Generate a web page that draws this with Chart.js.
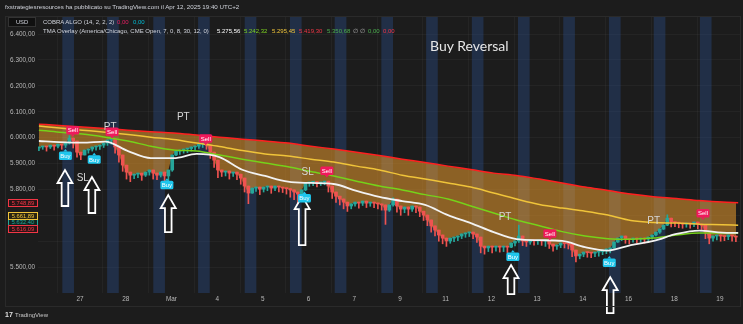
<!DOCTYPE html>
<html>
<head>
<meta charset="utf-8">
<script src="https://cdn.jsdelivr.net/npm/chart.js@4.4.1/dist/chart.umd.min.js"></script>
<style>
body { margin: 0; background: #1c1c1c; width: 743px; height: 324px; overflow: hidden; font-family: "Liberation Sans", Arial, sans-serif; }
#wrap { position: relative; width: 743px; height: 324px; }
#chart { position: absolute; left: 0; top: 0; }
.t { position: absolute; white-space: nowrap; font-size: 6px; line-height: 7px; color: #d1d4dc; }
.frame { position: absolute; left: 5px; top: 16px; width: 734px; height: 289px; border: 1px solid #2a2a2a; pointer-events: none; }
.badge { position: absolute; left: 8px; width: 30px; height: 8px; box-sizing: border-box; border: 1px solid; font-size: 5.8px; line-height: 6px; text-align: center; }
.usd { position: absolute; left: 8px; top: 17px; width: 28px; height: 10px; box-sizing: border-box; background: #101010; border: 1px solid #333; color: #d1d4dc; font-size: 5.8px; line-height: 8px; text-align: center; }
.title { position: absolute; left: 430px; top: 37px; font-family: Lato, "Open Sans", sans-serif; font-size: 14px; color: #e6e6e6; }
</style>
</head>
<body>
<div id="wrap">
  <canvas id="chart" width="743" height="324"></canvas>
  <div class="frame"></div>
  <div class="t" style="left:5px;top:3px;font-size:6.2px">fxstrategiesresources ha pubblicato su TradingView.com il Apr 12, 2025 19:40 UTC+2</div>
  <div class="usd">USD</div>
  <div class="t" style="left:43px;top:18.5px">COBRA ALGO (14, 2, 2, 2)</div>
  <div class="t" style="left:117px;top:18.5px;color:#e91e63">0,00</div>
  <div class="t" style="left:133px;top:18.5px;color:#00bcd4">0,00</div>
  <div class="t" style="left:43px;top:27.5px">TMA Overlay (America/Chicago, CME Open, 7, 0, 8, 30, 12, 0)</div>
  <div class="t" style="left:217px;top:27.5px;color:#ffffff">5.275,56</div>
  <div class="t" style="left:244px;top:27.5px;color:#7ed321">5.242,32</div>
  <div class="t" style="left:272px;top:27.5px;color:#f0c43a">5.295,45</div>
  <div class="t" style="left:299px;top:27.5px;color:#f23645">5.419,30</div>
  <div class="t" style="left:327px;top:27.5px;color:#4caf50">5.350,68</div>
  <div class="t" style="left:353px;top:27.5px;color:#b0b0b0">&#8709;</div>
  <div class="t" style="left:360px;top:27.5px;color:#b0b0b0">&#8709;</div>
  <div class="t" style="left:368px;top:27.5px;color:#4caf50">0,00</div>
  <div class="t" style="left:383px;top:27.5px;color:#f23645">0,00</div>
  <div class="title">Buy Reversal</div>
  <div class="badge" style="top:218px;border-color:#26a69a;color:#26a69a;background:#10241f">5.632,40</div>
  <div class="badge" style="top:199px;border-color:#f23645;color:#f23645;background:#2a1416">5.748,89</div>
  <div class="badge" style="top:212px;border-color:#f0c43a;color:#f0c43a;background:#2a2512">5.661,89</div>
  <div class="badge" style="top:225px;border-color:#f23645;color:#f23645;background:#2a1416">5.616,09</div>
  <div class="t" style="left:5px;top:311px;font-size:7px;font-weight:bold;color:#e0e0e0">17</div>
  <div class="t" style="left:15px;top:311.5px;color:#c8c8c8">TradingView</div>
</div>
<script>
const dayLabels = ['27', '28', 'Mar', '4', '5', '6', '7', '9', '11', '12', '13', '14', '16', '18', '19'];
const yTicks = [5500, 5600, 5700, 5800, 5900, 6000, 6100, 6200, 6300, 6400];

// candles: 12 bars per session, first bar at day -0.9
const candleStart = -0.9;
const candlesPerDay = 12;
const firstOpen = 5960;
const closes = [
  5964, 5967, 5964, 5971, 5967, 5975, 5971, 5979, 5998, 5987,
  5944, 5933, 5952, 5956, 5964, 5967, 5971, 5979, 5991, 5994,
  5964, 5933, 5894, 5867, 5855, 5859, 5863, 5855, 5867, 5875,
  5863, 5855, 5867, 5852, 5875, 5933, 5948, 5952, 5956, 5958,
  5964, 5967, 5975, 5979, 5971, 5944, 5913, 5875, 5867, 5871,
  5863, 5867, 5859, 5844, 5813, 5786, 5805, 5809, 5801, 5809,
  5813, 5805, 5813, 5809, 5805, 5803, 5798, 5790, 5782, 5798,
  5825, 5828, 5830, 5825, 5828, 5832, 5813, 5790, 5774, 5763,
  5751, 5736, 5744, 5751, 5747, 5755, 5747, 5751, 5747, 5744,
  5740, 5720, 5740, 5763, 5736, 5724, 5732, 5724, 5736, 5732,
  5716, 5701, 5682, 5659, 5643, 5624, 5612, 5601, 5612, 5616,
  5620, 5628, 5632, 5635, 5628, 5616, 5581, 5574, 5581, 5577,
  5581, 5577, 5581, 5577, 5593, 5601, 5620, 5601, 5597, 5604,
  5601, 5604, 5601, 5604, 5589, 5581, 5585, 5593, 5591, 5589,
  5566, 5543, 5550, 5558, 5556, 5554, 5558, 5560, 5566, 5570,
  5574, 5597, 5612, 5620, 5608, 5606, 5612, 5608, 5612, 5608,
  5616, 5624, 5635, 5647, 5662, 5689, 5674, 5672, 5670, 5666,
  5670, 5666, 5674, 5666, 5662, 5635, 5612, 5620, 5624, 5620,
  5618, 5624, 5620, 5616.09
];
const lows = [
  5950, 5955, 5948, 5958, 5952, 5960, 5955, 5962, 5975, 5960,
  5925, 5915, 5935, 5940, 5948, 5952, 5955, 5962, 5970, 5975,
  5940, 5905, 5870, 5840, 5830, 5842, 5845, 5835, 5850, 5855,
  5840, 5838, 5848, 5830, 5830, 5870, 5930, 5935, 5940, 5942,
  5948, 5952, 5958, 5962, 5955, 5920, 5885, 5845, 5850, 5852,
  5840, 5850, 5838, 5820, 5790, 5745, 5785, 5792, 5780, 5790,
  5795, 5785, 5795, 5790, 5788, 5782, 5770, 5760, 5745, 5770,
  5795, 5812, 5815, 5810, 5815, 5818, 5790, 5765, 5750, 5740,
  5725, 5715, 5725, 5735, 5728, 5738, 5730, 5735, 5730, 5725,
  5720, 5665, 5715, 5735, 5712, 5700, 5710, 5700, 5715, 5710,
  5695, 5680, 5660, 5635, 5620, 5600, 5590, 5580, 5592, 5598,
  5602, 5610, 5615, 5618, 5610, 5595, 5555, 5550, 5560, 5555,
  5562, 5558, 5560, 5556, 5575, 5582, 5595, 5583, 5580, 5588,
  5585, 5588, 5584, 5580, 5572, 5562, 5568, 5575, 5574, 5570,
  5540, 5520, 5532, 5540, 5538, 5536, 5540, 5542, 5548, 5552,
  5555, 5572, 5595, 5602, 5592, 5590, 5596, 5592, 5596, 5592,
  5600, 5608, 5620, 5630, 5645, 5660, 5655, 5656, 5652, 5650,
  5654, 5650, 5656, 5648, 5645, 5610, 5590, 5600, 5605, 5600,
  5602, 5606, 5600, 5598
];
const wickIndex = [8, 19, 43, 55, 93, 126, 165];
const wickHigh = [6008, 6000, 5985, 5805, 5768, 5662, 5702];

// shaded session columns
const sessionDays = [-0.26, 0.72, 1.73, 2.71, 3.73, 4.72, 5.70, 6.72, 7.70, 8.70, 9.71, 10.70, 11.70, 12.68, 13.69];

// TMA overlay bands
const lineDays = [-0.9, -0.45, 0.05, 0.55, 1.05, 1.55, 2.05, 2.55, 3.05, 3.55, 4.05, 4.55, 5.05, 5.55, 6.05, 6.55,
  7.05, 7.55, 8.05, 8.55, 9.05, 9.55, 10.05, 10.55, 11.05, 11.55, 12.05, 12.55, 13.05, 13.55, 14.05, 14.4];
const redBand = [6052, 6047, 6041, 6035, 6029, 6023, 6018, 6010, 6002, 5994, 5987, 5979, 5967, 5956, 5944, 5931,
  5917, 5904, 5890, 5877, 5863, 5854, 5840, 5825, 5809, 5796, 5782, 5772, 5765, 5757, 5751, 5748.89];
const yellowBand = [6045, 6037, 6029, 6021, 6012, 6002, 5993, 5979, 5966, 5950, 5937, 5929, 5917, 5906, 5890, 5875,
  5855, 5840, 5825, 5809, 5786, 5763, 5742, 5728, 5716, 5701, 5680, 5672, 5670, 5666, 5664, 5661.89];
const greenBand = [6029, 6021, 6014, 6002, 5987, 5967, 5952, 5948, 5933, 5917, 5902, 5888, 5869, 5852, 5832, 5813,
  5798, 5780, 5763, 5736, 5709, 5682, 5660, 5637, 5620, 5610, 5608, 5612, 5624, 5632, 5632, 5632];
const whiteBand = [5987, 5983, 5981, 5985, 5948, 5921, 5921, 5937, 5925, 5876, 5852, 5830, 5825, 5821, 5794, 5771,
  5755, 5740, 5701, 5670, 5635, 5608, 5604, 5601, 5577, 5564, 5585, 5601, 5628, 5641, 5633, 5632];

// signals and drawn notes
const buyDays = [-0.32, 0.31, 1.90, 4.91, 9.47, 11.58];
const buyPrices = [5930, 5916, 5817, 5766, 5540, 5517];
const sellDays = [-0.16, 0.70, 2.75, 5.40, 10.28, 13.63];
const sellPrices = [6029, 6023, 5997, 5872, 5630, 5708];
const ptDays = [0.66, 2.26, 9.30, 12.55];
const ptPrices = [6041, 6079, 5693, 5679];
const slDays = [0.06, 4.98];
const slPrices = [5843, 5866];
const arrowDays = [-0.33, 0.26, 1.93, 4.86, 9.43, 11.6];
const arrowTops = [5875, 5848, 5778, 5774, 5508, 5461];
const arrowBottoms = [5736, 5709, 5635, 5585, 5396, 5322];

const FONT = '"Liberation Sans", Arial, sans-serif';
const UP = '#26a69a', DOWN = '#ef5350';

const candleX = closes.map((c, i) => candleStart + i / candlesPerDay);
const opens = closes.map((c, i) => i === 0 ? firstOpen : closes[i - 1]);
const bodyData = candleX.map((d, i) => ({ x: d, y: [opens[i], closes[i]] }));
const wickData = candleX.map((d, i) => {
  const k = wickIndex.indexOf(i);
  const hi = Math.max(opens[i], closes[i], k >= 0 ? wickHigh[k] : 0);
  const lo = Math.min(lows[i], opens[i], closes[i]);
  return { x: d, y: [lo, hi] };
});
const candleColors = closes.map((c, i) => c >= opens[i] ? UP : DOWN);

const fmt = v => {
  const s = v.toFixed(2).split('.');
  return s[0].replace(/\B(?=(\d{3})+(?!\d))/g, '.') + ',' + s[1];
};

const line = (data, color, width, order, extra) => Object.assign({
  type: 'line',
  data: lineDays.map((d, i) => ({ x: d, y: data[i] })),
  borderColor: color,
  borderWidth: width,
  pointRadius: 0,
  cubicInterpolationMode: 'monotone',
  fill: false,
  order: order
}, extra || {});

function tag(ctx, text, cx, cy, color, up) {
  const w = 13, h = 8.5;
  ctx.fillStyle = color;
  ctx.beginPath();
  ctx.roundRect(cx - w / 2, cy - h / 2, w, h, 1.5);
  ctx.fill();
  ctx.beginPath();
  if (up) {
    ctx.moveTo(cx - 2, cy - h / 2); ctx.lineTo(cx, cy - h / 2 - 2.5); ctx.lineTo(cx + 2, cy - h / 2);
  } else {
    ctx.moveTo(cx - 2, cy + h / 2); ctx.lineTo(cx, cy + h / 2 + 2.5); ctx.lineTo(cx + 2, cy + h / 2);
  }
  ctx.fill();
  ctx.fillStyle = '#ffffff';
  ctx.font = '6px ' + FONT;
  ctx.textAlign = 'center';
  ctx.textBaseline = 'middle';
  ctx.fillText(text, cx, cy + 0.5);
}

const notes = {
  id: 'notes',
  afterDatasetsDraw(chart) {
    const { ctx, scales: { x, y } } = chart;
    ctx.save();
    // hollow arrows
    ctx.strokeStyle = '#ffffff';
    ctx.lineWidth = 1.8;
    ctx.lineJoin = 'miter';
    arrowDays.forEach((d, k) => {
      const cx = x.getPixelForValue(d);
      const top = y.getPixelForValue(arrowTops[k]);
      const bot = y.getPixelForValue(arrowBottoms[k]);
      const head = 13, hw = 7.5, sw = 3.3;
      ctx.beginPath();
      ctx.moveTo(cx, top);
      ctx.lineTo(cx + hw, top + head);
      ctx.lineTo(cx + sw, top + head);
      ctx.lineTo(cx + sw, bot);
      ctx.lineTo(cx - sw, bot);
      ctx.lineTo(cx - sw, top + head);
      ctx.lineTo(cx - hw, top + head);
      ctx.closePath();
      ctx.stroke();
    });
    // PT / SL notes
    ctx.fillStyle = '#d6d6d6';
    ctx.font = '10px ' + FONT;
    ctx.textAlign = 'center';
    ctx.textBaseline = 'middle';
    ptDays.forEach((d, k) => ctx.fillText('PT', x.getPixelForValue(d), y.getPixelForValue(ptPrices[k])));
    slDays.forEach((d, k) => ctx.fillText('SL', x.getPixelForValue(d), y.getPixelForValue(slPrices[k])));
    // signal tags
    buyDays.forEach((d, k) => tag(ctx, 'Buy', x.getPixelForValue(d), y.getPixelForValue(buyPrices[k]), '#1fc6ec', true));
    sellDays.forEach((d, k) => tag(ctx, 'Sell', x.getPixelForValue(d), y.getPixelForValue(sellPrices[k]), '#f0195c', false));
    ctx.restore();
  }
};

new Chart(document.getElementById('chart'), {
  type: 'bar',
  data: {
    datasets: [
      {
        type: 'bar',
        data: sessionDays.map(d => ({ x: d, y: [5400, 6466] })),
        backgroundColor: 'rgba(50, 110, 210, 0.24)',
        barThickness: 11,
        grouped: false,
        order: 10
      },
      line(redBand, '#ff2020', 1.5, 9, { fill: { target: 2 }, backgroundColor: 'rgba(252, 165, 45, 0.5)' }),
      {
        type: 'line',
        data: candleX.map((d, i) => ({ x: d, y: closes[i] })),
        borderWidth: 0,
        borderColor: 'rgba(0,0,0,0)',
        pointRadius: 0,
        fill: false,
        order: 7
      },
      {
        type: 'bar',
        data: wickData,
        backgroundColor: candleColors,
        barThickness: 1,
        grouped: false,
        order: 6
      },
      {
        type: 'bar',
        data: bodyData,
        backgroundColor: candleColors,
        barThickness: 3,
        minBarLength: 1,
        grouped: false,
        order: 5
      },
      line(yellowBand, '#f0c43a', 1.5, 3),
      line(greenBand, '#76d21a', 1.5, 2),
      line(whiteBand, '#f2f2f2', 1.8, 1)
    ]
  },
  options: {
    responsive: false,
    animation: false,
    layout: { padding: { left: 5, right: 3, top: 17, bottom: 18 } },
    plugins: { legend: { display: false }, tooltip: { enabled: false } },
    scales: {
      x: {
        type: 'linear',
        min: -0.92,
        max: 14.44,
        offset: false,
        afterBuildTicks: s => { s.ticks = dayLabels.map((_, i) => ({ value: i })); },
        afterFit: s => { s.height = 13; },
        ticks: {
          callback: v => dayLabels[v],
          color: '#b8b8b8',
          font: { size: 6.4, family: FONT },
          padding: 2,
          maxRotation: 0,
          autoSkip: false
        },
        grid: { color: 'rgba(255,255,255,0.035)', drawTicks: false },
        border: { display: false }
      },
      y: {
        position: 'left',
        min: 5400,
        max: 6466,
        afterBuildTicks: s => { s.ticks = yTicks.map(v => ({ value: v })); },
        afterFit: s => { s.width = 33; },
        ticks: {
          callback: v => v === 5600 ? '' : fmt(v),
          color: '#b8b8b8',
          font: { size: 6.4, family: FONT },
          padding: 3
        },
        grid: { color: 'rgba(255,255,255,0.035)', drawTicks: false },
        border: { display: false }
      }
    }
  },
  plugins: [notes]
});
</script>
</body>
</html>
